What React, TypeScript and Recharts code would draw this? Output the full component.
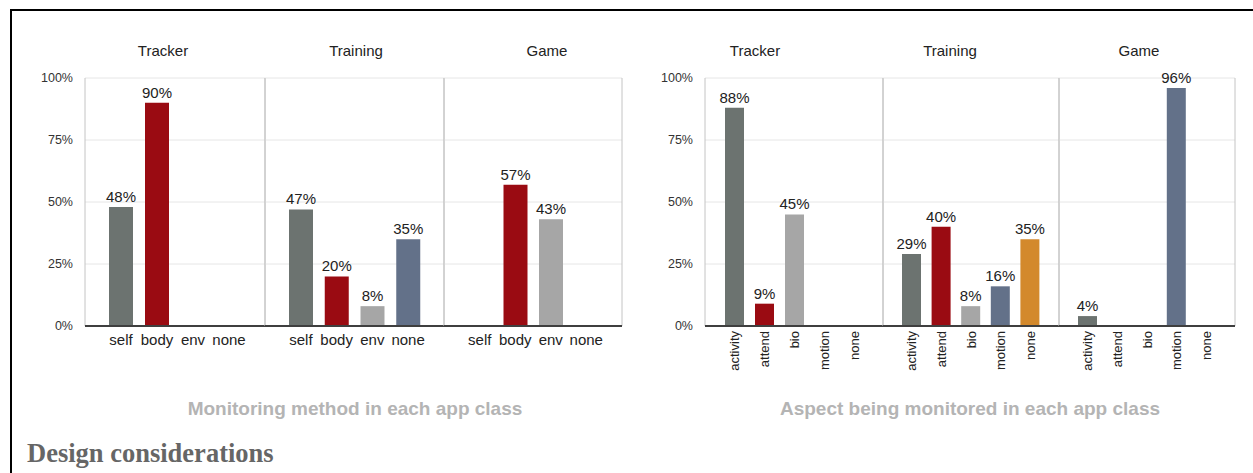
import React from "react";
import { BarChart, Bar, XAxis, YAxis, CartesianGrid, Cell, LabelList } from "recharts";

// app classes (panel titles)
const appClasses = ["Tracker", "Training", "Game"];

// left chart: monitoring method
const methodCats = ["self", "body", "env", "none"];
const trackerMethod = [48, 90, 0, 0];
const trainingMethod = [47, 20, 8, 35];
const gameMethod = [0, 57, 43, 0];

// right chart: aspect being monitored
const aspectCats = ["activity", "attend", "bio", "motion", "none"];
const trackerAspect = [88, 9, 45, 0, 0];
const trainingAspect = [29, 40, 8, 16, 35];
const gameAspect = [4, 0, 0, 96, 0];

const yTicks = [0, 25, 50, 75, 100];

const methodColors = ["#6c7370", "#9a0b12", "#a6a6a6", "#637189"];
const aspectColors = ["#6c7370", "#9a0b12", "#a6a6a6", "#637189", "#d3892c"];

const FONT = '"Liberation Sans", Arial, Helvetica, sans-serif';
const CHART_TOP = 57;
const PLOT_TOP = 21;
const PLOT_H = 248;
const AXIS_H = 60;
const Y_W = 50;

const RotTick = ({ x, y, payload }: any) => (
    <text
        x={x}
        y={y}
        transform={`rotate(-90, ${x}, ${y})`}
        textAnchor="end"
        dy="0.35em"
        fontSize={13}
        fill="#222"
        fontFamily={FONT}
    >
        {payload.value}
    </text>
);

const ValueLabel = ({ x, y, width, value }: any) => {
    if (!value) return null;
    return (
        <text x={x + width / 2} y={y - 5} textAnchor="middle" fontSize={15} fill="#222" fontFamily={FONT}>
            {`${value}%`}
        </text>
    );
};

interface PanelProps {
    cats: string[];
    values: number[];
    colors: string[];
    left: number;
    right: number;
    withY: boolean;
    pad: number;
    barSize: number;
    rotated: boolean;
}

const Panel = ({ cats, values, colors, left, right, withY, pad, barSize, rotated }: PanelProps) => {
    const yW = withY ? Y_W : 0;
    const data = cats.map((c, i) => ({ cat: c, value: values[i] }));
    return (
        <div style={{ position: "absolute", left: left - 1 - yW, top: CHART_TOP }}>
            <BarChart
                width={right - left + 2 + yW}
                height={PLOT_TOP + PLOT_H + AXIS_H}
                data={data}
                margin={{ top: PLOT_TOP, right: 1, left: 1, bottom: 0 }}
            >
                <CartesianGrid stroke="#e6e6e6" vertical={false} />
                <CartesianGrid
                    stroke="#c4c4c4"
                    horizontal={false}
                    verticalCoordinatesGenerator={({ offset }: any) => [offset.left, offset.left + offset.width]}
                />
                <XAxis
                    dataKey="cat"
                    interval={0}
                    padding={{ left: pad, right: pad }}
                    tickLine={false}
                    tickSize={0}
                    tickMargin={rotated ? 5 : 8}
                    height={AXIS_H}
                    axisLine={{ stroke: "#3f3f3f", strokeWidth: 2 }}
                    tick={rotated ? <RotTick /> : { fontSize: 15, fill: "#222", fontFamily: FONT }}
                />
                <YAxis
                    hide={!withY}
                    width={yW}
                    domain={[0, 100]}
                    ticks={yTicks}
                    tickFormatter={(v) => `${v}%`}
                    axisLine={false}
                    tickLine={false}
                    tickSize={0}
                    tickMargin={12}
                    tick={{ fontSize: 12.5, fill: "#333", fontFamily: FONT }}
                />
                <Bar dataKey="value" barSize={barSize} isAnimationActive={false}>
                    {data.map((_, i) => (
                        <Cell key={`cell-${i}`} fill={colors[i]} />
                    ))}
                    <LabelList dataKey="value" content={<ValueLabel />} />
                </Bar>
            </BarChart>
        </div>
    );
};

const Title = ({ x, y, children, style }: any) => (
    <div
        style={{
            position: "absolute",
            left: x,
            top: y,
            transform: "translate(-50%, -50%)",
            whiteSpace: "nowrap",
            fontFamily: FONT,
            ...style,
        }}
    >
        {children}
    </div>
);

export default function App() {
    const leftEdges = [85, 265, 444, 622];
    const rightEdges = [705, 883, 1059, 1235];
    const leftTitleX = [163, 356, 547];
    const rightTitleX = [755, 950, 1139];
    const methodSets = [trackerMethod, trainingMethod, gameMethod];
    const aspectSets = [trackerAspect, trainingAspect, gameAspect];

    return (
        <div
            style={{
                position: "absolute",
                left: 0,
                top: 0,
                width: 1253,
                height: 473,
                background: "#fff",
                overflow: "hidden",
                fontFamily: FONT,
            }}
        >
            <div
                style={{
                    position: "absolute",
                    left: 10,
                    top: 9,
                    width: 1243,
                    height: 464,
                    borderTop: "2px solid #000",
                    borderLeft: "2px solid #000",
                    boxSizing: "border-box",
                }}
            />

            {appClasses.map((name, i) => (
                <Title key={`lt-${name}`} x={leftTitleX[i]} y={50} style={{ fontSize: 15, color: "#222" }}>
                    {name}
                </Title>
            ))}
            {appClasses.map((name, i) => (
                <Title key={`rt-${name}`} x={rightTitleX[i]} y={50} style={{ fontSize: 15, color: "#222" }}>
                    {name}
                </Title>
            ))}

            {methodSets.map((vals, i) => (
                <Panel
                    key={`m-${i}`}
                    cats={methodCats}
                    values={vals}
                    colors={methodColors}
                    left={leftEdges[i]}
                    right={leftEdges[i + 1]}
                    withY={i === 0}
                    pad={18}
                    barSize={24}
                    rotated={false}
                />
            ))}
            {aspectSets.map((vals, i) => (
                <Panel
                    key={`a-${i}`}
                    cats={aspectCats}
                    values={vals}
                    colors={aspectColors}
                    left={rightEdges[i]}
                    right={rightEdges[i + 1]}
                    withY={i === 0}
                    pad={14}
                    barSize={19}
                    rotated={true}
                />
            ))}

            <Title x={355} y={409} style={{ fontSize: 19, fontWeight: "bold", color: "#b4b4b4" }}>
                Monitoring method in each app class
            </Title>
            <Title x={970} y={409} style={{ fontSize: 19, fontWeight: "bold", color: "#b4b4b4" }}>
                Aspect being monitored in each app class
            </Title>

            <div
                style={{
                    position: "absolute",
                    left: 27,
                    top: 440,
                    fontFamily: '"Liberation Serif", "Times New Roman", serif',
                    fontWeight: "bold",
                    fontSize: 26.5,
                    lineHeight: 1,
                    color: "#666",
                    whiteSpace: "nowrap",
                }}
            >
                Design considerations
            </div>
        </div>
    );
}
